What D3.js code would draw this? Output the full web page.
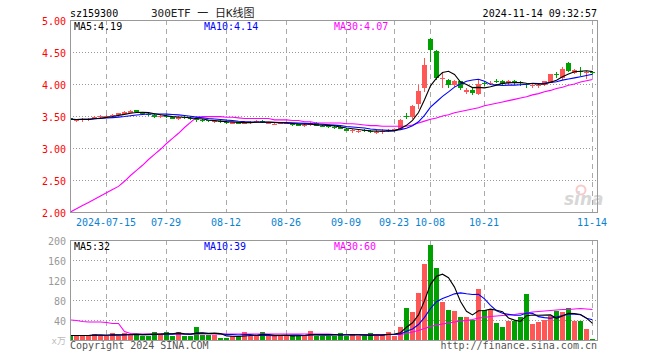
<!DOCTYPE html>
<html>
<head>
<meta charset="utf-8">
<script src="https://cdn.jsdelivr.net/npm/d3@7"></script>
<style>
body { margin:0; background:#fff; }
svg { display:block; }
text { font-family:"DejaVu Sans Mono", monospace; font-size:10px; }
</style>
</head>
<body>
<div id="kline"></div>
<script>
var dates = ["07-05","07-08","07-09","07-10","07-11","07-12",
  "07-15","07-16","07-17","07-18","07-19","07-22","07-23","07-24","07-25","07-26",
  "07-29","07-30","07-31","08-01","08-02","08-05","08-06","08-07","08-08","08-09",
  "08-12","08-13","08-14","08-15","08-16","08-19","08-20","08-21","08-22","08-23",
  "08-26","08-27","08-28","08-29","08-30","09-02","09-03","09-04","09-05","09-06",
  "09-09","09-10","09-11","09-12","09-13","09-18","09-19","09-20",
  "09-23","09-24","09-25","09-26","09-27","09-30",
  "10-08","10-09","10-10","10-11","10-14","10-15","10-16","10-17","10-18",
  "10-21","10-22","10-23","10-24","10-25","10-28","10-29","10-30","10-31","11-01",
  "11-04","11-05","11-06","11-07","11-08","11-11","11-12","11-13","11-14"];

var open  = [3.47,3.43,3.43,3.44,3.46,3.48,3.49,3.50,3.51,3.53,3.55,3.59,3.56,3.53,3.52,3.48,
  3.50,3.48,3.45,3.49,3.47,3.45,3.43,3.43,3.41,3.42,3.41,3.38,3.40,3.38,3.40,3.40,3.42,3.38,3.37,3.38,
  3.38,3.38,3.37,3.34,3.36,3.39,3.35,3.34,3.33,3.33,3.30,3.26,3.26,3.28,3.27,3.24,3.25,3.26,
  3.28,3.30,3.50,3.48,3.68,3.94,4.71,4.52,4.08,4.07,3.99,4.04,3.88,3.91,3.85,
  4.01,4.01,4.05,4.05,4.02,4.04,4.03,4.00,3.97,3.98,3.98,4.02,4.15,4.09,4.33,4.17,4.20,4.17,4.19];
var high  = [3.50,3.46,3.47,3.47,3.50,3.51,3.52,3.53,3.55,3.58,3.59,3.60,3.57,3.55,3.53,3.51,
  3.52,3.49,3.50,3.51,3.49,3.46,3.45,3.44,3.43,3.43,3.42,3.41,3.41,3.42,3.42,3.43,3.43,3.41,3.39,3.40,
  3.41,3.39,3.38,3.37,3.41,3.40,3.36,3.35,3.34,3.34,3.31,3.29,3.28,3.29,3.28,3.28,3.29,3.29,
  3.30,3.45,3.54,3.67,3.99,4.41,4.72,4.53,4.19,4.08,4.07,4.05,3.93,3.94,4.08,
  4.04,4.04,4.08,4.06,4.07,4.06,4.05,4.01,4.00,4.01,4.05,4.15,4.19,4.26,4.34,4.23,4.27,4.21,4.20];
var low   = [3.41,3.41,3.40,3.42,3.45,3.47,3.48,3.49,3.50,3.52,3.54,3.55,3.52,3.50,3.47,3.47,
  3.47,3.45,3.44,3.46,3.44,3.41,3.40,3.40,3.39,3.39,3.38,3.37,3.37,3.37,3.38,3.39,3.39,3.37,3.36,3.37,
  3.37,3.35,3.34,3.33,3.35,3.34,3.33,3.32,3.30,3.29,3.26,3.23,3.24,3.25,3.24,3.22,3.22,3.25,
  3.26,3.29,3.46,3.46,3.61,3.88,4.34,4.06,3.93,3.93,3.95,3.90,3.85,3.83,3.83,
  3.97,3.99,4.01,3.99,3.98,3.99,3.97,3.94,3.94,3.94,3.97,4.01,4.09,4.07,4.19,4.15,4.12,4.08,4.15];
var close = [3.45,3.44,3.45,3.45,3.49,3.50,3.50,3.52,3.54,3.57,3.58,3.56,3.53,3.52,3.49,3.50,
  3.48,3.46,3.49,3.47,3.45,3.43,3.42,3.42,3.42,3.41,3.39,3.40,3.38,3.40,3.41,3.42,3.40,3.39,3.38,3.39,
  3.39,3.36,3.35,3.36,3.39,3.35,3.34,3.33,3.32,3.30,3.27,3.28,3.27,3.27,3.25,3.25,3.27,3.28,
  3.29,3.44,3.49,3.66,3.89,4.29,4.53,4.09,4.10,3.98,4.04,3.94,3.90,3.86,4.00,
  4.00,4.02,4.03,4.00,4.04,4.03,4.01,3.98,3.98,3.99,4.04,4.15,4.14,4.24,4.21,4.22,4.19,4.18,4.17];

// volume, 万
var volume = [9,9,9,9,13,9,8,14,7,14,12,
  12,9,9,17,12,16,9,17,7,9,27,
  11,11,11,4,4,8,8,16,9,7,16,
  7,7,9,9,9,9,9,18,9,9,9,
  9,14,9,12,7,7,14,9,12,16,9,
  27,64,56,95,152,190,144,77,60,58,46,
  46,41,102,60,60,35,26,39,39,46,93,
  33,36,41,48,59,56,64,38,38,23,3];

// MA30 lines as drawn by the source (history before 07-05 is not in the window)
var ma30 = [2.00,2.05,2.10,2.15,2.20,2.25,2.30,2.35,2.40,
  2.48,2.57,2.65,2.73,2.82,2.90,2.98,3.07,3.15,3.23,3.32,3.40,3.48,
  3.49,3.49,3.49,3.49,3.48,3.48,3.47,
  3.46,3.46,3.46,3.46,3.46,3.44,3.44,3.44,3.43,3.43,3.41,3.41,
  3.39,3.39,3.39,3.39,3.39,3.38,3.38,3.37,3.36,
  3.35,3.35,3.34,3.34,3.34,3.34,3.34,
  3.36,3.39,3.42,3.45,3.47,3.50,3.52,3.55,3.57,3.59,3.61,3.63,3.66,3.68,3.70,3.72,
  3.74,3.76,3.78,3.80,3.83,3.85,3.88,3.90,3.93,3.95,3.98,4.00,4.03,4.05,4.07];
var volMa30 = [40,39,37,36,36,36,35,33,33,17,13,
  12,12,12,12,12,12,12,12,12,12,12,12,12,12,12,12,12,12,12,12,12,12,12,12,12,12,12,12,12,12,12,12,12,
  11,11,11,11,11,11,11,11,11,11,11,
  11,13,16,19,23,27,30,32,34,36,38,39,41,44,45,47,48,49,50,51,53,54,56,57,58,59,60,61,61,62,63,62,61];

var tickDates  = ["07-15","07-29","08-12","08-26","09-09","09-23","10-08","10-21","11-14"];
var tickLabels = ["2024-07-15","07-29","08-12","08-26","09-09","09-23","10-08","10-21","11-14"];
var priceTicks = [2.00,2.50,3.00,3.50,4.00,4.50,5.00];
var volTicks   = [40,80,120,160,200];

var RED = "#ff5656", GREEN = "#00a000";
var left = 70, right = 597;
var top1 = 20, bot1 = 212, top2 = 240, bot2 = 340;

var svg = d3.select("#kline")
  .append("svg")
  .attr("width", 660)
  .attr("height", 360);

var x = d3.scaleBand()
  .domain(dates)
  .range([67, 67 + 6 * dates.length]);
function cx(d) { return x(d) + 3.5; }

var y = d3.scaleLinear().domain([2, 5]).range([bot1, top1]);
var yv = d3.scaleLinear().domain([0, 200]).range([bot2, top2]);

var rows = dates.map(function(d, i) {
  return {date: d, o: open[i], h: high[i], l: low[i], c: close[i], v: volume[i]};
});

function movAvg(arr, n) {
  return arr.map(function(v, i) { return d3.mean(arr.slice(Math.max(0, i - n + 1), i + 1)); });
}

// clip paths
var defs = svg.append("defs");
defs.append("clipPath").attr("id", "clipP")
  .append("rect").attr("x", left + 1).attr("y", top1).attr("width", right - left - 1).attr("height", bot1 - top1);
defs.append("clipPath").attr("id", "clipV")
  .append("rect").attr("x", left + 1).attr("y", top2).attr("width", right - left - 1).attr("height", bot2 - top2);

// sina watermark
var wm = svg.append("g").attr("opacity", 0.55);
wm.append("circle").attr("cx", 581).attr("cy", 190).attr("r", 4.5)
  .attr("fill", "none").attr("stroke", "#f3a0a0").attr("stroke-width", 2);
wm.append("text").attr("x", 564).attr("y", 205)
  .style("font-family", "DejaVu Sans").style("font-size", "17px")
  .style("font-style", "italic").style("font-weight", "bold")
  .attr("fill", "#b8b8b8").text("sina");

// horizontal dotted grid
svg.selectAll(".hgrid")
  .data(priceTicks.slice(1, -1))
  .enter().append("line")
  .attr("class", "hgrid")
  .attr("x1", left).attr("x2", right)
  .attr("y1", function(d) { return Math.round(y(d)) + 0.5; })
  .attr("y2", function(d) { return Math.round(y(d)) + 0.5; })
  .attr("stroke", "#999").attr("stroke-dasharray", "1,2");

svg.selectAll(".vhgrid")
  .data(volTicks.slice(0, -1))
  .enter().append("line")
  .attr("class", "vhgrid")
  .attr("x1", left).attr("x2", right)
  .attr("y1", function(d) { return Math.round(yv(d)) + 0.5; })
  .attr("y2", function(d) { return Math.round(yv(d)) + 0.5; })
  .attr("stroke", "#999").attr("stroke-dasharray", "1,2");

// vertical dashed grid in both panels
[[top1, bot1], [top2, bot2]].forEach(function(p) {
  svg.selectAll(null)
    .data(tickDates)
    .enter().append("line")
    .attr("x1", cx).attr("x2", cx)
    .attr("y1", p[0]).attr("y2", p[1])
    .attr("stroke", "#aaa").attr("stroke-dasharray", "5,4");
});

// axes
var yAxis = svg.append("g")
  .attr("transform", "translate(" + (left - 1) + ",0)")
  .call(d3.axisLeft(y).tickValues(priceTicks).tickSize(0).tickPadding(3).tickFormat(d3.format(".2f")));
yAxis.select(".domain").remove();
yAxis.selectAll("text").attr("fill", "#ff0000").attr("dy", "0.4em");

var vAxis = svg.append("g")
  .attr("transform", "translate(" + (left - 1) + ",0)")
  .call(d3.axisLeft(yv).tickValues(volTicks).tickSize(0).tickPadding(3));
vAxis.select(".domain").remove();
vAxis.selectAll("text").attr("fill", "#999").attr("dy", "0.4em");

var xAxis = svg.append("g")
  .attr("transform", "translate(0," + bot1 + ")")
  .call(d3.axisBottom(x).tickValues(tickDates).tickSize(0).tickPadding(7)
    .tickFormat(function(d, i) { return tickLabels[i]; }));
xAxis.select(".domain").remove();
xAxis.selectAll("text").attr("fill", "#0a82d2");

// frames
svg.append("rect").attr("x", left + 0.5).attr("y", top1 + 0.5)
  .attr("width", right - left).attr("height", bot1 - top1)
  .attr("fill", "none").attr("stroke", "#999");
svg.append("rect").attr("x", left + 0.5).attr("y", top2 + 0.5)
  .attr("width", right - left).attr("height", bot2 - top2)
  .attr("fill", "none").attr("stroke", "#999");

// candles
var pg = svg.append("g").attr("clip-path", "url(#clipP)");
function col(d) { return d.c >= d.o ? RED : GREEN; }

pg.selectAll(".wick")
  .data(rows)
  .enter().append("line")
  .attr("class", "wick")
  .attr("x1", function(d) { return cx(d.date); })
  .attr("x2", function(d) { return cx(d.date); })
  .attr("y1", function(d) { return Math.round(y(d.h)); })
  .attr("y2", function(d) { return Math.round(y(d.l)); })
  .attr("stroke", col);

pg.selectAll(".body")
  .data(rows)
  .enter().append("rect")
  .attr("class", "body")
  .attr("x", function(d) { return x(d.date) + 1; })
  .attr("width", 5)
  .attr("y", function(d) { return Math.round(y(Math.max(d.o, d.c))); })
  .attr("height", function(d) { return Math.max(1, Math.round(y(Math.min(d.o, d.c))) - Math.round(y(Math.max(d.o, d.c)))); })
  .attr("fill", col);

function drawLine(g, vals, sc, color) {
  g.append("path")
    .datum(vals)
    .attr("d", d3.line()
      .x(function(d, i) { return cx(dates[i]); })
      .y(function(d) { return sc(d); }))
    .attr("fill", "none")
    .attr("stroke", color)
    .attr("stroke-width", 1.1);
}
drawLine(pg, ma30, y, "#ff00ff");
drawLine(pg, movAvg(close, 10), y, "#0000ff");
drawLine(pg, movAvg(close, 5), y, "#000000");

// volume bars
var vg = svg.append("g").attr("clip-path", "url(#clipV)");
vg.selectAll(".vol")
  .data(rows)
  .enter().append("rect")
  .attr("class", "vol")
  .attr("x", function(d) { return x(d.date) + 1; })
  .attr("width", 5)
  .attr("y", function(d) { return Math.round(yv(d.v)); })
  .attr("height", function(d) { return bot2 - Math.round(yv(d.v)); })
  .attr("fill", col);

drawLine(vg, volMa30, yv, "#ff00ff");
drawLine(vg, movAvg(volume, 10), yv, "#0000ff");
drawLine(vg, movAvg(volume, 5), yv, "#000000");

// labels
function label(tx, ty, s, color, anchor) {
  return svg.append("text").attr("x", tx).attr("y", ty)
    .attr("fill", color).attr("text-anchor", anchor || "start").text(s);
}
label(70, 16.5, "sz159300", "#000");
label(597, 16.5, "2024-11-14 09:32:57", "#000", "end");
svg.append("text").attr("x", 151).attr("y", 16.5)
  .style("font-family", "'DejaVu Sans Mono', 'Noto Sans CJK SC'").style("font-size", "11px")
  .attr("xml:space", "preserve")
  .attr("fill", "#222").text("300ETF 一 日K线图");

label(74, 29.5, "MA5:4.19", "#000");
label(204, 29.5, "MA10:4.14", "#0000ff");
label(334, 29.5, "MA30:4.07", "#ff00ff");

label(74, 250, "MA5:32", "#000");
label(204, 250, "MA10:39", "#0000ff");
label(334, 250, "MA30:60", "#ff00ff");

svg.append("text").attr("x", 66).attr("y", 344).attr("text-anchor", "end")
  .style("font-family", "'DejaVu Sans Mono', 'Noto Sans CJK SC'").style("font-size", "9px")
  .attr("fill", "#bbb").text("x万");
label(70, 349, "Copyright 2024 SINA.COM", "#555");
label(597, 349, "http://finance.sina.com.cn", "#555", "end");
</script>
</body>
</html>
